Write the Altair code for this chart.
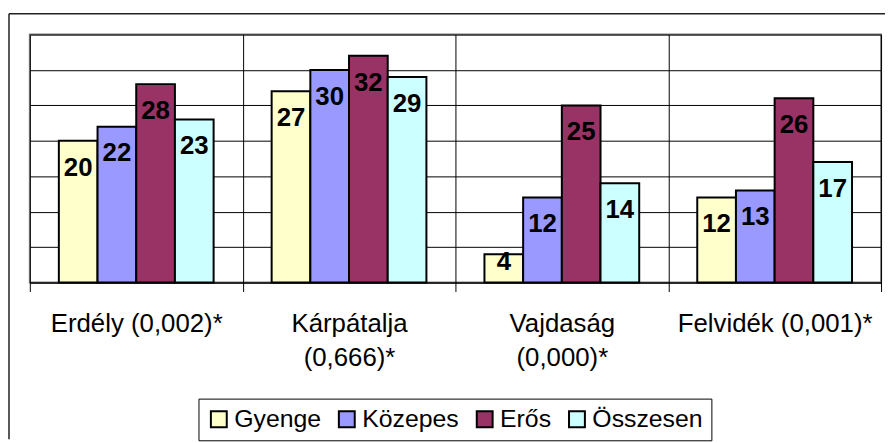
import altair as alt
import pandas as pd

regions = ["Erdély (0,002)*", "Kárpátalja|(0,666)*", "Vajdaság|(0,000)*", "Felvidék (0,001)*"]
series = ["Gyenge", "Közepes", "Erős", "Összesen"]
gyenge = [20, 27, 4, 12]
kozepes = [22, 30, 12, 13]
eros = [28, 32, 25, 26]
osszesen = [23, 29, 14, 17]
colors = ["#FFFFCC", "#9999FF", "#993366", "#CCFFFF"]

rows = []
for i, r in enumerate(regions):
    for s, vals in zip(series, [gyenge, kozepes, eros, osszesen]):
        rows.append({"region": r, "series": s, "value": vals[i]})
df = pd.DataFrame(rows)

FONT = "Liberation Sans"

x = alt.X(
    "region:N", sort=regions, title=None,
    scale=alt.Scale(paddingInner=0, paddingOuter=0),
    axis=alt.Axis(
        labelAngle=0, labelExpr="split(datum.label, '|')", labelFont=FONT,
        labelFontSize=26, labelColor="black", labelLineHeight=35,
        labelBaseline="top", labelPadding=19, labelLimit=0,
        tickSize=9, tickColor="black", tickBand="extent",
        grid=True, gridColor="black", gridWidth=1,
        domainColor="black", domainWidth=1,
    ),
)
xoff = alt.XOffset("series:N", sort=series,
                   scale=alt.Scale(paddingInner=0, paddingOuter=0.75))
y = alt.Y(
    "value:Q", title=None, scale=alt.Scale(domain=[0, 35], nice=False),
    axis=alt.Axis(values=[0, 5, 10, 15, 20, 25, 30, 35], labels=False, ticks=False,
                  domain=False, grid=True, gridColor="black", gridWidth=1),
)

bars = alt.Chart(df).mark_bar(stroke="black", strokeWidth=2, opacity=1).encode(
    x=x, xOffset=xoff, y=y,
    color=alt.Color(
        "series:N", sort=series,
        scale=alt.Scale(domain=series, range=colors),
        legend=alt.Legend(
            title=None, orient="none", legendX=170, legendY=367,
            direction="horizontal", labelFont=FONT, labelFontSize=25,
            labelColor="black", symbolType="square", symbolSize=256,
            symbolStrokeColor="black", symbolStrokeWidth=2, symbolOpacity=1,
            strokeColor="black", padding=8, columnPadding=13, labelOffset=3,
            fillColor="white",
        ),
    ),
)

text_big = alt.Chart(df).transform_filter("datum.value >= 6").mark_text(
    font=FONT, fontSize=26, fontWeight="bold", baseline="middle",
    color="black", dy=27).encode(x=x, xOffset=xoff, y=y, text="value:Q")
text_small = alt.Chart(df).transform_filter("datum.value < 6").mark_text(
    font=FONT, fontSize=26, fontWeight="bold", baseline="middle",
    color="black", dy=8).encode(x=x, xOffset=xoff, y=y, text="value:Q")

frame_df = pd.DataFrame({"k": [0]})
top_rule = alt.Chart(frame_df).mark_rule(color="#222222", strokeWidth=1.5).encode(
    x=alt.value(-21), x2=alt.value(862), y=alt.value(-21))
left_rule = alt.Chart(frame_df).mark_rule(color="#222222", strokeWidth=1.5).encode(
    x=alt.value(-21), y=alt.value(-21), y2=alt.value(408))

chart = alt.layer(bars, text_big, text_small, top_rule, left_rule).properties(
    width=858, height=250,
    padding={"left": 0, "top": 3, "right": 0, "bottom": 0},
).configure_view(stroke="#808080", strokeWidth=2)

chart.save("out.html", embed_options={"renderer": "svg", "actions": False})
